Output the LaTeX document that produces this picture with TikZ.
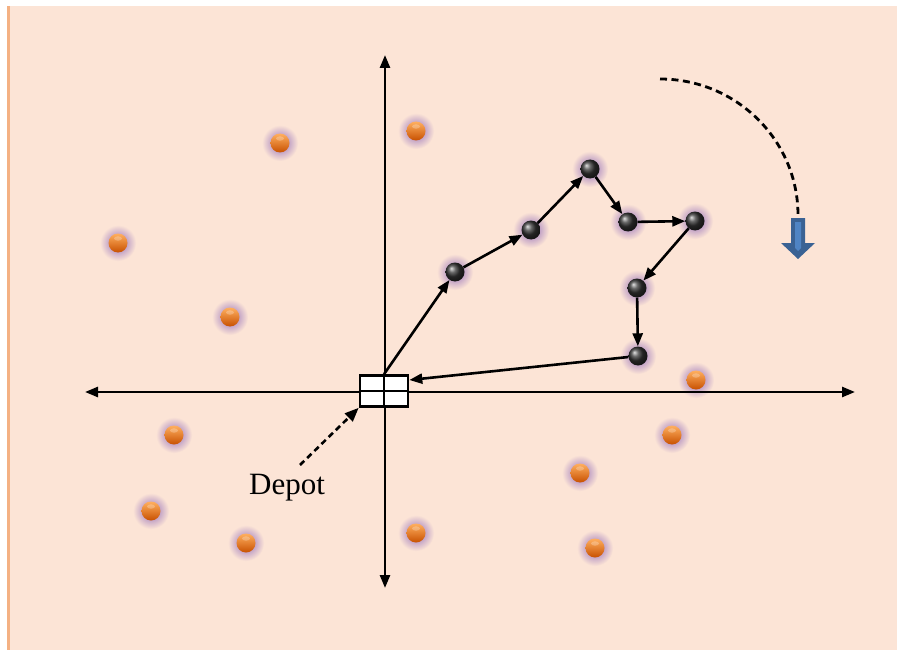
\documentclass[tikz,border=0pt]{standalone}
\usepackage{fontspec}
\setmainfont{Liberation Serif}
\usetikzlibrary{arrows.meta}
\definecolor{bgc}{HTML}{FCE4D6}
\definecolor{stripc}{HTML}{F4B183}
\definecolor{glowc}{HTML}{8E68B8}
\definecolor{arrowdark}{HTML}{3A6294}
\definecolor{arrowlight}{HTML}{4F84C4}
\definecolor{orangetop}{HTML}{FFB060}
\definecolor{orangemid}{HTML}{F47A12}
\definecolor{orangebot}{HTML}{C85000}
\tikzset{
  glow/.style={inner color=glowc, outer color=bgc},
  custball/.style={circle, minimum size=19pt, inner sep=0pt, top color=orangetop, middle color=orangemid, bottom color=orangebot},
  routeball/.style={circle, minimum size=19pt, inner sep=0pt, ball color=black!80},
  axis/.style={line width=2.6pt, {Triangle[length=13pt,width=10pt]}-{Triangle[length=13pt,width=10pt]}},
  route/.style={line width=2.6pt, -{Triangle[length=13pt,width=10pt]}},
  depotbox/.style={draw, line width=2.6pt, fill=white}
}
\begin{document}
\begin{tikzpicture}[x=1pt,y=-1pt]
\useasboundingbox (0,0) rectangle (897,650);
\fill[white] (0,0) rectangle (897,650);
\fill[bgc] (7,6) rectangle (897,650);
\fill[stripc] (7,6) rectangle (10,650);
% glows
\foreach \x/\y in {280/143,416/131,118/243,230/317,174/435,151/511,246/543,416/533,580/473,595/548,672/435,696/380,455/272,531/230,590/169,628/222,695/221,637/288,638/356}
  \shade[glow] (\x,\y) circle (18);
% axes
\coordinate (L) at (85,392);
\coordinate (R) at (855,392);
\coordinate (T) at (385,55);
\coordinate (B) at (385,588);
\draw[axis] (L) -- (R);
\draw[axis] (B) -- (T);
% depot box
\node[depotbox, minimum width=48pt, minimum height=31pt, inner sep=0pt] (depot) at (384,391) {};
\draw[line width=2.6pt] (depot.north) -- (depot.south);
\draw[line width=2.6pt] (depot.west) -- (depot.east);
% customers
\foreach \n/\x/\y in {c1/280/143,c2/416/131,c3/118/243,c4/230/317,c5/174/435,c6/151/511,c7/246/543,c8/416/533,c9/580/473,c10/595/548,c11/672/435,c12/696/380}
  {\node[custball] (\n) at (\x,\y) {};
   \fill[white, opacity=0.25] ([yshift=4.5pt]\n.center) ellipse (4pt and 2.2pt);}
% route
\node[routeball] (r1) at (455,272) {};
\node[routeball] (r2) at (531,230) {};
\node[routeball] (r3) at (590,169) {};
\node[routeball] (r4) at (628,222) {};
\node[routeball] (r5) at (695,221) {};
\node[routeball] (r6) at (637,288) {};
\node[routeball] (r7) at (638,356) {};
\draw[route] (depot.north) -- (r1);
\draw[route] (r1) -- (r2);
\draw[route] (r2) -- (r3);
\draw[route] (r3) -- (r4);
\draw[route] (r4) -- (r5);
\draw[route] (r5) -- (r6);
\draw[route] (r6) -- (r7);
\draw[route] (r7) -- ([yshift=11pt]depot.east);
% depot label
\node[font=\fontsize{31}{34}\selectfont] (dlabel) at (287,488) {Depot};
\coordinate (dstart) at (300,465);
\draw[line width=2.6pt, dash pattern=on 6pt off 4pt, -{Triangle[length=14pt,width=11pt]}] (dstart) -- (depot.south west);
% rotation arc
\coordinate (a0) at (660,79);
\coordinate (a1) at (798,215);
\draw[line width=2.8pt, dash pattern=on 7pt off 4.5pt] (a0) .. controls (736,79) and (798,140) .. (a1);
% blue down arrow
\fill[arrowdark] (791,218) -- (805,218) -- (805,243) -- (815,243) -- (798,259) -- (781,243) -- (791,243) -- cycle;
\fill[arrowlight] (795,222) -- (801,222) -- (801,248) -- (798,251) -- (795,248) -- cycle;
\end{tikzpicture}
\end{document}
